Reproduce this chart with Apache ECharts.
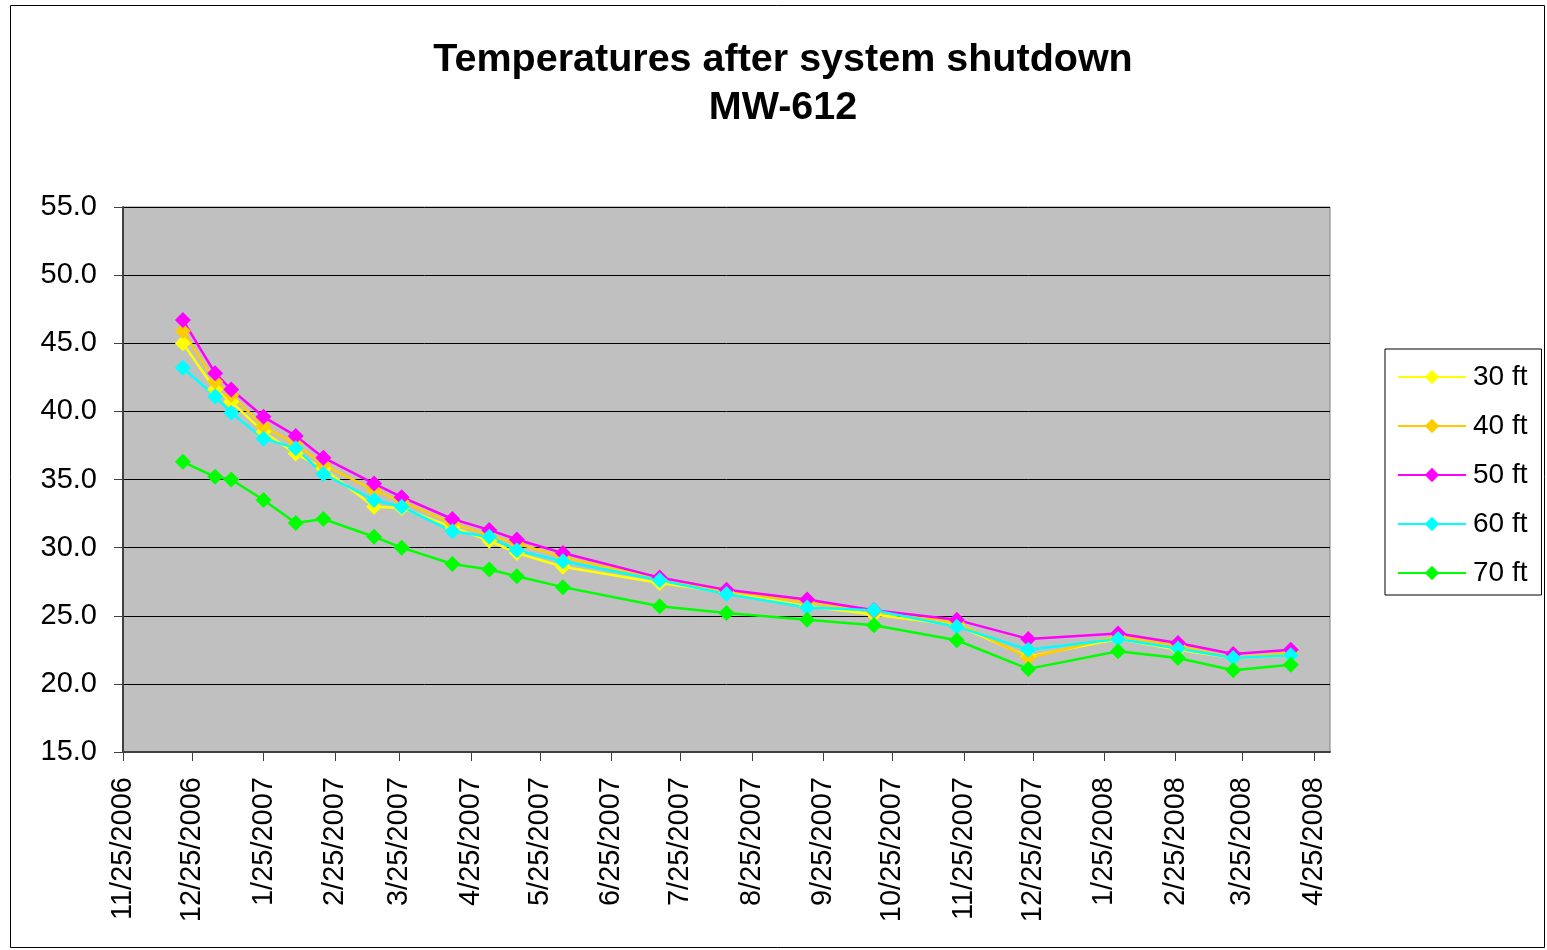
<!DOCTYPE html>
<html>
<head>
<meta charset="utf-8">
<title>Temperatures after system shutdown - MW-612</title>
<script src="https://cdn.jsdelivr.net/npm/echarts@6/dist/echarts.min.js"></script>
<style>
  html, body { margin: 0; padding: 0; background: #ffffff; }
  #chart { width: 1547px; height: 950px; }
</style>
</head>
<body>
<div id="chart"></div>
<script>
// Sampling dates (M/D/YYYY readings)
const sampleDates = [
  '12/21/2006', '1/4/2007', '1/11/2007', '1/25/2007', '2/8/2007', '2/20/2007',
  '3/14/2007', '3/26/2007', '4/17/2007', '5/3/2007', '5/15/2007', '6/4/2007',
  '7/16/2007', '8/14/2007', '9/18/2007', '10/17/2007', '11/22/2007', '12/23/2007',
  '1/31/2008', '2/26/2008', '3/21/2008', '4/15/2008'
];

// Temperatures by depth
const temp30ft = [45.0, 41.6, 40.7, 38.5, 36.9, 35.8, 33.0, 32.9, 31.5, 30.5, 29.6, 28.6, 27.4, 26.7, 25.7, 25.1, 24.3, 22.0, 23.3, 22.5, 21.9, 22.1];
const temp40ft = [45.9, 42.2, 41.2, 38.9, 37.6, 36.1, 34.2, 33.4, 31.8, 30.9, 30.3, 29.3, 27.7, 26.8, 26.0, 25.3, 24.5, 21.9, 23.5, 22.8, 21.9, 22.3];
const temp50ft = [46.7, 42.8, 41.6, 39.6, 38.2, 36.6, 34.7, 33.7, 32.1, 31.3, 30.6, 29.6, 27.8, 26.9, 26.2, 25.4, 24.7, 23.3, 23.7, 23.0, 22.2, 22.5];
const temp60ft = [43.2, 41.1, 39.9, 38.0, 37.3, 35.4, 33.5, 33.0, 31.2, 30.8, 29.8, 29.0, 27.6, 26.6, 25.6, 25.4, 24.2, 22.5, 23.3, 22.6, 21.9, 22.1];
const temp70ft = [36.3, 35.2, 35.0, 33.5, 31.8, 32.1, 30.8, 30.0, 28.8, 28.4, 27.9, 27.1, 25.7, 25.2, 24.7, 24.3, 23.2, 21.1, 22.4, 21.9, 21.0, 21.4];

// Axis ticks: the 25th of each month
const xTickDates = [
  '11/25/2006', '12/25/2006', '1/25/2007', '2/25/2007', '3/25/2007', '4/25/2007',
  '5/25/2007', '6/25/2007', '7/25/2007', '8/25/2007', '9/25/2007', '10/25/2007',
  '11/25/2007', '12/25/2007', '1/25/2008', '2/25/2008', '3/25/2008', '4/25/2008'
];
const xMinDate = '11/25/2006';
const xMaxDate = '5/2/2008';
const yTicks = [15, 20, 25, 30, 35, 40, 45, 50, 55];

const seriesNames = ['30 ft', '40 ft', '50 ft', '60 ft', '70 ft'];
const seriesColors = ['#FFFF00', '#FFCC00', '#FF00FF', '#00FFFF', '#00FF00'];
const seriesValues = [temp30ft, temp40ft, temp50ft, temp60ft, temp70ft];

// Dates are placed on a day-number scale (days since 1970-01-01, UTC)
const DAY = 86400000;
function toDay(mdy) {
  const [m, d, y] = mdy.split('/').map(Number);
  return Date.UTC(y, m - 1, d) / DAY;
}
function fmtDay(n) {
  const dt = new Date(Math.round(n) * DAY);
  return (dt.getUTCMonth() + 1) + '/' + dt.getUTCDate() + '/' + dt.getUTCFullYear();
}

const sampleDays = sampleDates.map(toDay);
const tickDays = xTickDates.map(toDay);

const chart = echarts.init(document.getElementById('chart'), null, { renderer: 'canvas' });

const FONT = 'Liberation Sans, Arial, sans-serif';

chart.setOption({
  animation: false,
  backgroundColor: '#ffffff',
  title: {
    text: 'Temperatures after system shutdown\nMW-612',
    left: 778,
    textAlign: 'center',
    top: 31,
    textStyle: {
      fontFamily: FONT,
      fontWeight: 'bold',
      fontSize: 39.5,
      lineHeight: 48,
      color: '#000000'
    }
  },
  graphic: [{
    type: 'rect',
    shape: { x: 10.5, y: 5.5, width: 1534, height: 942 },
    style: { fill: 'none', stroke: '#000000', lineWidth: 1 },
    z: 100
  }],
  legend: {
    orient: 'vertical',
    left: 1385,
    top: 349,
    padding: [12, 14, 6, 12],
    itemGap: 17,
    itemWidth: 68,
    itemHeight: 18,
    borderColor: '#000000',
    borderWidth: 1,
    backgroundColor: '#ffffff',
    textStyle: {
      fontFamily: FONT,
      fontSize: 28,
      lineHeight: 32,
      color: '#000000',
      padding: [0, 0, 0, 2]
    },
    data: seriesNames
  },
  grid: {
    left: 123,
    right: 217,
    top: 207,
    bottom: 198,
    show: true,
    backgroundColor: '#C0C0C0',
    borderColor: '#808080',
    borderWidth: 1
  },
  xAxis: {
    type: 'value',
    min: toDay(xMinDate),
    max: toDay(xMaxDate),
    axisLine: { show: true, onZero: false, lineStyle: { color: '#404040', width: 2 } },
    axisTick: {
      show: true,
      length: 9,
      customValues: tickDays,
      lineStyle: { color: '#404040', width: 1 }
    },
    axisLabel: {
      customValues: tickDays,
      formatter: function (v) { return fmtDay(v); },
      rotate: 90,
      margin: 25,
      fontFamily: FONT,
      fontSize: 29,
      color: '#000000',
      showMinLabel: true,
      showMaxLabel: true
    },
    splitLine: { show: false }
  },
  yAxis: {
    type: 'value',
    min: yTicks[0],
    max: yTicks[yTicks.length - 1],
    interval: yTicks[1] - yTicks[0],
    axisLine: { show: true, lineStyle: { color: '#404040', width: 2 } },
    axisTick: { show: true, length: 9, lineStyle: { color: '#404040', width: 1 } },
    axisLabel: {
      formatter: function (v) { return v.toFixed(1); },
      margin: 26,
      fontFamily: FONT,
      fontSize: 29,
      color: '#000000'
    },
    splitLine: { show: true, lineStyle: { color: '#000000', width: 1 } }
  },
  series: seriesNames.map(function (name, i) {
    return {
      name: name,
      type: 'line',
      data: sampleDays.map(function (t, j) { return [t, seriesValues[i][j]]; }),
      symbol: 'diamond',
      symbolSize: 16,
      color: seriesColors[i],
      lineStyle: { color: seriesColors[i], width: 2.5 },
      itemStyle: { color: seriesColors[i], borderWidth: 0 },
      emphasis: { disabled: true }
    };
  })
});
</script>
</body>
</html>
